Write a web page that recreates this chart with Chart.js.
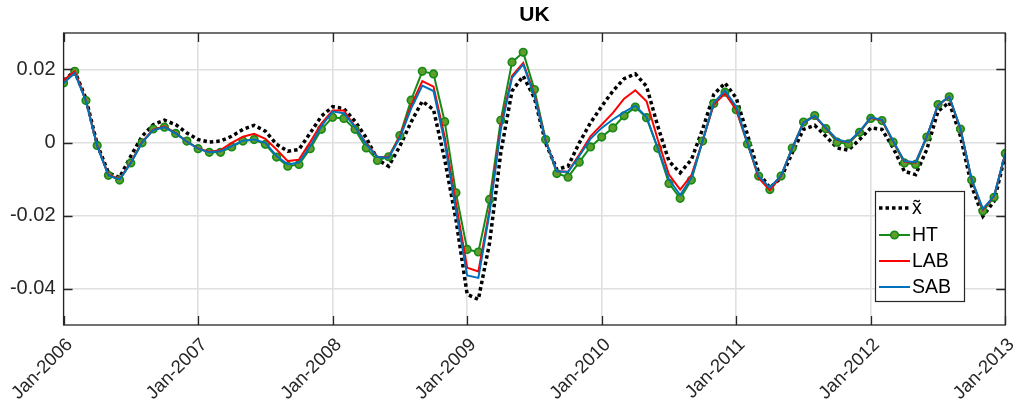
<!DOCTYPE html>
<html>
<head>
<meta charset="utf-8">
<script src="https://cdn.jsdelivr.net/npm/chart.js@4.4.0/dist/chart.umd.min.js"></script>
<style>
  html, body { margin: 0; padding: 0; background: #fff; }
  #wrap { width: 1030px; height: 412px; }
</style>
</head>
<body>
<div id="wrap"><canvas id="uk-chart" width="1030" height="412"></canvas></div>
<script>
/* UK — x~ vs HT / LAB / SAB, monthly Jan-2006 .. Jan-2013 */

const xTickPos    = [0, 12, 24, 36, 48, 60, 72, 84];
const xTickLabels = ['Jan-2006','Jan-2007','Jan-2008','Jan-2009','Jan-2010','Jan-2011','Jan-2012','Jan-2013'];
const yTicks      = [-0.04, -0.02, 0, 0.02];
const yTickLabels = ['-0.04', '-0.02', '0', '0.02'];

const xTilde = [
  0.0170, 0.0195, 0.0120,-0.0005,-0.0083,-0.0096,-0.0037, 0.0017, 0.0049, 0.0061, 0.0049, 0.0026,
  0.0008, 0.0001, 0.0004, 0.0017, 0.0036, 0.0047, 0.0031,-0.0005,-0.0024,-0.0019, 0.0026, 0.0072,
  0.0098, 0.0093, 0.0058, 0.0013,-0.0047,-0.0065,-0.0010, 0.0056, 0.0113, 0.0090,-0.0047,-0.0211,
 -0.0416,-0.0430,-0.0275,-0.0028, 0.0141, 0.0182, 0.0122,-0.0001,-0.0074,-0.0065,-0.0001, 0.0054,
  0.0099, 0.0141, 0.0175, 0.0188, 0.0154, 0.0045,-0.0051,-0.0083,-0.0047, 0.0036, 0.0132, 0.0163,
  0.0122, 0.0022,-0.0083,-0.0124,-0.0097,-0.0028, 0.0036, 0.0047, 0.0017,-0.0015,-0.0021, 0.0008,
  0.0040, 0.0036,-0.0015,-0.0079,-0.0088,-0.0019, 0.0086, 0.0110, 0.0017,-0.0120,-0.0202,-0.0161,
 -0.0033
];
const HT = [
  0.0163, 0.0195, 0.0115,-0.0008,-0.0090,-0.0103,-0.0056,-0.0001, 0.0037, 0.0042, 0.0025, 0.0004,
 -0.0017,-0.0027,-0.0027,-0.0012, 0.0004, 0.0008,-0.0005,-0.0040,-0.0065,-0.0060,-0.0017, 0.0036,
  0.0069, 0.0066, 0.0036,-0.0015,-0.0049,-0.0039, 0.0019, 0.0116, 0.0195, 0.0188, 0.0057,-0.0138,
 -0.0293,-0.0300,-0.0156, 0.0061, 0.0220, 0.0247, 0.0145, 0.0008,-0.0085,-0.0095,-0.0054,-0.0012,
  0.0015, 0.0040, 0.0073, 0.0097, 0.0068,-0.0016,-0.0112,-0.0153,-0.0103, 0.0004, 0.0107, 0.0138,
  0.0090,-0.0004,-0.0092,-0.0129,-0.0092,-0.0015, 0.0056, 0.0074, 0.0038, 0.0001,-0.0004, 0.0028,
  0.0066, 0.0060, 0.0001,-0.0056,-0.0060, 0.0015, 0.0104, 0.0125, 0.0037,-0.0103,-0.0188,-0.0150,
 -0.0030
];
const LAB = [
  0.0170, 0.0195, 0.0115,-0.0008,-0.0088,-0.0100,-0.0055, 0.0001, 0.0035, 0.0044, 0.0026, 0.0002,
 -0.0016,-0.0025,-0.0021,-0.0001, 0.0016, 0.0024, 0.0010,-0.0019,-0.0051,-0.0047, 0.0001, 0.0052,
  0.0088, 0.0088, 0.0044,-0.0003,-0.0039,-0.0040, 0.0017, 0.0101, 0.0168, 0.0153, 0.0015,-0.0166,
 -0.0343,-0.0353,-0.0184, 0.0045, 0.0182, 0.0218, 0.0132, 0.0005,-0.0079,-0.0080,-0.0033, 0.0017,
  0.0049, 0.0081, 0.0120, 0.0143, 0.0113, 0.0008,-0.0088,-0.0129,-0.0090, 0.0004, 0.0104, 0.0134,
  0.0090,-0.0001,-0.0097,-0.0131,-0.0092,-0.0015, 0.0054, 0.0072, 0.0039, 0.0007, 0.0000, 0.0029,
  0.0068, 0.0061, 0.0003,-0.0052,-0.0055, 0.0016, 0.0102, 0.0125, 0.0037,-0.0102,-0.0184,-0.0147,
 -0.0030
];
const SAB = [
  0.0163, 0.0190, 0.0113,-0.0010,-0.0090,-0.0101,-0.0056, 0.0000, 0.0034, 0.0042, 0.0025, 0.0002,
 -0.0017,-0.0027,-0.0024,-0.0010, 0.0005, 0.0008,-0.0001,-0.0037,-0.0060,-0.0055,-0.0010, 0.0045,
  0.0085, 0.0080, 0.0043,-0.0005,-0.0040,-0.0042, 0.0013, 0.0093, 0.0156, 0.0141, 0.0000,-0.0186,
 -0.0364,-0.0371,-0.0193, 0.0036, 0.0177, 0.0214, 0.0127, 0.0004,-0.0079,-0.0081,-0.0037, 0.0010,
  0.0040, 0.0063, 0.0083, 0.0101, 0.0070,-0.0015,-0.0101,-0.0144,-0.0097, 0.0004, 0.0109, 0.0142,
  0.0098,-0.0001,-0.0092,-0.0124,-0.0090,-0.0015, 0.0054, 0.0073, 0.0040, 0.0008, 0.0001, 0.0030,
  0.0069, 0.0062, 0.0004,-0.0051,-0.0054, 0.0017, 0.0102, 0.0126, 0.0038,-0.0101,-0.0182,-0.0146,
 -0.0030
];

const FONT = '"Liberation Sans", Arial, Helvetica, sans-serif';
const AX = '#262626';
const GREEN = '#168a16', GREEN_FILL = '#5f9d2c', RED = '#ff0000', BLUE = '#0072bd';

const pts = arr => arr.map((v, i) => ({ x: i, y: v }));

// box, inward ticks, title and legend (matlab look)
const matlabAxes = {
  id: 'matlabAxes',
  afterDraw(chart) {
    const { ctx, chartArea: a, scales: { x, y } } = chart;
    ctx.save();
    ctx.strokeStyle = AX; ctx.lineWidth = 1.3;
    ctx.strokeRect(a.left, a.top, a.right - a.left, a.bottom - a.top);
    ctx.beginPath();
    xTickPos.forEach(v => {
      const px = Math.round(x.getPixelForValue(v)) + 0.5;
      ctx.moveTo(px, a.bottom); ctx.lineTo(px, a.bottom - 9);
      ctx.moveTo(px, a.top);    ctx.lineTo(px, a.top + 9);
    });
    yTicks.forEach(v => {
      const py = Math.round(y.getPixelForValue(v)) + 0.5;
      ctx.moveTo(a.left, py);  ctx.lineTo(a.left + 9, py);
      ctx.moveTo(a.right, py); ctx.lineTo(a.right - 9, py);
    });
    ctx.stroke();

    // title
    ctx.fillStyle = '#000';
    ctx.font = 'bold 21px ' + FONT;
    ctx.textAlign = 'center'; ctx.textBaseline = 'middle';
    ctx.fillText('UK', (a.left + a.right) / 2, 15);

    // legend
    const L = 875.5, T = 191.5, W = 89, H = 110;
    ctx.fillStyle = '#fff'; ctx.fillRect(L, T, W, H);
    ctx.strokeStyle = AX; ctx.lineWidth = 1.2; ctx.strokeRect(L, T, W, H);
    const rows = [
      { label: 'x\u0303', color: '#000', dash: [3.5, 3], w: 3.5 },
      { label: 'HT',  color: GREEN, dash: [], w: 2, marker: true },
      { label: 'LAB', color: RED,   dash: [], w: 2 },
      { label: 'SAB', color: BLUE,  dash: [], w: 2 }
    ];
    const rowY = [208, 235, 261, 287];
    rows.forEach((r, i) => {
      const yy = rowY[i];
      ctx.beginPath();
      ctx.setLineDash(r.dash); ctx.lineWidth = r.w; ctx.strokeStyle = r.color;
      ctx.moveTo(879, yy); ctx.lineTo(910, yy); ctx.stroke();
      ctx.setLineDash([]);
      if (r.marker) {
        ctx.beginPath(); ctx.arc(894.5, yy, 3.8, 0, Math.PI * 2);
        ctx.fillStyle = GREEN_FILL; ctx.fill();
        ctx.lineWidth = 1.6; ctx.strokeStyle = GREEN; ctx.stroke();
      }
      ctx.fillStyle = '#000';
      ctx.font = '19.5px ' + FONT;
      ctx.textAlign = 'left'; ctx.textBaseline = 'middle';
      ctx.fillText(r.label, 912, yy + 1);
    });
    ctx.restore();
  }
};

new Chart(document.getElementById('uk-chart'), {
  type: 'line',
  data: {
    datasets: [
      { label: 'SAB', data: pts(SAB), borderColor: BLUE, borderWidth: 2, pointRadius: 0, order: 1 },
      { label: 'LAB', data: pts(LAB), borderColor: RED, borderWidth: 2, pointRadius: 0, order: 2 },
      { label: 'HT', data: pts(HT), borderColor: GREEN, borderWidth: 2, pointRadius: 3.8,
        pointBackgroundColor: GREEN_FILL, pointBorderColor: GREEN, pointBorderWidth: 1.6, order: 3 },
      { label: 'x~', data: pts(xTilde), borderColor: '#000', borderWidth: 3.5, borderDash: [3.5, 3],
        pointRadius: 0, order: 4 }
    ]
  },
  options: {
    responsive: false,
    animation: false,
    devicePixelRatio: 1,
    layout: { padding: { left: 0, right: 14, top: 33, bottom: 0 } },
    plugins: { legend: { display: false }, title: { display: false }, tooltip: { enabled: false } },
    elements: { line: { tension: 0 } },
    scales: {
      x: {
        type: 'linear', min: 0, max: 84,
        afterBuildTicks: s => { s.ticks = xTickPos.map(v => ({ value: v })); },
        afterFit: s => { s.height = 87; },
        grid: { color: '#e0e0e0', lineWidth: 1.6, drawTicks: false },
        border: { display: false },
        ticks: {
          autoSkip: false, maxRotation: 45, minRotation: 45, padding: 9, labelOffset: 6,
          color: '#262626', font: { family: FONT, size: 18.5 },
          callback: (v, i) => xTickLabels[i]
        }
      },
      y: {
        min: -0.05, max: 0.03,
        afterBuildTicks: s => { s.ticks = yTicks.map(v => ({ value: v })); },
        afterFit: s => { s.width = 63; },
        grid: { color: '#e0e0e0', lineWidth: 1.6, drawTicks: false },
        border: { display: false },
        ticks: {
          padding: 8, color: '#262626', font: { family: FONT, size: 20 },
          callback: (v, i) => yTickLabels[i]
        }
      }
    }
  },
  plugins: [matlabAxes]
});
</script>
</body>
</html>
